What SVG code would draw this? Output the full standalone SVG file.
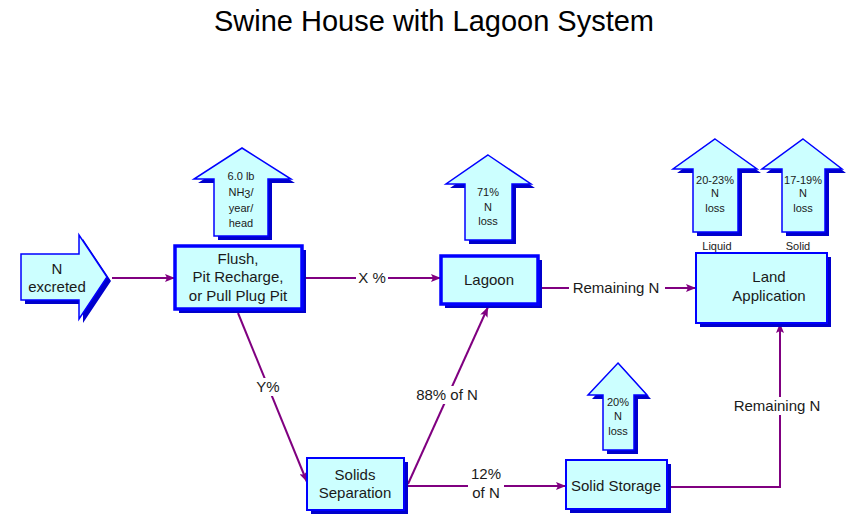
<svg xmlns="http://www.w3.org/2000/svg" width="853" height="514" viewBox="0 0 853 514">
<defs>
<style>
text{font-family:"Liberation Sans",Arial,sans-serif;fill:#1a1a1a;text-anchor:middle}
.t{font-size:29px;fill:#000}
.b{font-size:15px}
.s{font-size:11px}
.l{font-size:15px}
.sh{fill:#0000cc}
.box{fill:#ccffff;stroke:#0000ff;stroke-width:2}
.thick{stroke-width:3.5}
.ar{fill:#ccffff;stroke:#0000ff;stroke-width:1.5;stroke-linejoin:miter}
.c{fill:none;stroke:#800080;stroke-width:2}
.bg{fill:#fff}
</style>
<marker id="ah" viewBox="0 0 10 8" refX="10" refY="4" markerWidth="11" markerHeight="8" markerUnits="userSpaceOnUse" orient="auto">
<path d="M0,0 L10,4 L0,8 L2,4 Z" fill="#800080"/>
</marker>
</defs>
<rect width="853" height="514" fill="#fff"/>
<text class="t" x="434" y="31">Swine House with Lagoon System</text>

<g id="connectors">
<path class="c" d="M112,278 H175" marker-end="url(#ah)"/>
<path class="c" d="M302,278 H441" marker-end="url(#ah)"/>
<path class="c" d="M538,288 H696" marker-end="url(#ah)"/>
<path class="c" d="M238,313 L307,482" marker-end="url(#ah)"/>
<path class="c" d="M408,484 L488,307" marker-end="url(#ah)"/>
<path class="c" d="M404,486 H566" marker-end="url(#ah)"/>
<path class="c" d="M667,487 H780 V323" marker-end="url(#ah)"/>
<rect class="bg" x="356" y="269" width="32" height="18"/>
<text class="l" x="372" y="283">X %</text>
<rect class="bg" x="569" y="279" width="96" height="18"/>
<text class="l" x="616" y="293">Remaining N</text>
<rect class="bg" x="254" y="378" width="28" height="18"/>
<text class="l" x="268" y="392">Y%</text>
<rect class="bg" x="414" y="386" width="66" height="18"/>
<text class="l" x="447" y="400">88% of N</text>
<rect class="bg" x="468" y="465" width="36" height="37"/>
<text class="l" x="486" y="479">12%</text>
<text class="l" x="486" y="498">of N</text>
<rect class="bg" x="732" y="397" width="92" height="18"/>
<text class="l" x="777" y="411">Remaining N</text>
</g>

<g id="n-excreted">
<polygon class="sh" points="25,258 83,258 83,239 111,281 83,323 83,304 25,304"/>
<polygon class="ar" points="21,254 79,254 79,235 107,277 79,319 79,300 21,300"/>
<text class="b" x="57" y="274">N</text>
<text class="b" x="57" y="292">excreted</text>
</g>

<g id="flush">
<rect class="sh" x="179" y="250" width="127" height="63"/>
<rect class="box thick" x="175" y="246" width="127" height="63"/>
<text class="b" x="238" y="264">Flush,</text>
<text class="b" x="238" y="282">Pit Recharge,</text>
<text class="b" x="238" y="301">or Pull Plug Pit</text>
</g>

<g id="flush-loss">
<polygon class="sh" points="246,152 295,183 272,183 272,240 218,240 218,183 198,183"/>
<polygon class="ar" points="242,148 291,179 268,179 268,236 214,236 214,179 194,179"/>
<text class="s" x="241" y="180">6.0 lb</text>
<text class="s" x="241" y="196">NH<tspan dy="2">3</tspan><tspan dy="-2">/</tspan></text>
<text class="s" x="241" y="212">year/</text>
<text class="s" x="241" y="227">head</text>
</g>

<g id="lagoon">
<rect class="sh" x="445" y="260" width="97" height="48"/>
<rect class="box thick" x="441" y="256" width="97" height="48"/>
<text class="b" x="489" y="285">Lagoon</text>
</g>

<g id="lagoon-loss">
<polygon class="sh" points="492,159 535,188 516,188 516,244 469,244 469,188 450,188"/>
<polygon class="ar" points="488,155 531,184 512,184 512,240 465,240 465,184 446,184"/>
<text class="s" x="488" y="196">71%</text>
<text class="s" x="488" y="211">N</text>
<text class="s" x="488" y="225">loss</text>
</g>

<g id="land">
<rect class="sh" x="700" y="257" width="131" height="70"/>
<rect class="box" x="696" y="253" width="131" height="70"/>
<text class="b" x="769" y="282">Land</text>
<text class="b" x="769" y="301">Application</text>
</g>

<g id="liquid-loss">
<polygon class="sh" points="719,143 761,173 742,173 742,236 697,236 697,173 677,173"/>
<polygon class="ar" points="715,139 757,169 738,169 738,232 693,232 693,169 673,169"/>
<text class="s" x="715" y="184">20-23%</text>
<text class="s" x="715" y="197">N</text>
<text class="s" x="715" y="212">loss</text>
<text class="s" x="717" y="250">Liquid</text>
</g>

<g id="solid-loss">
<polygon class="sh" points="807,143 846,173 829,173 829,236 786,236 786,173 766,173"/>
<polygon class="ar" points="803,139 842,169 825,169 825,232 782,232 782,169 762,169"/>
<text class="s" x="803" y="184">17-19%</text>
<text class="s" x="803" y="197">N</text>
<text class="s" x="803" y="212">loss</text>
<text class="s" x="798" y="250">Solid</text>
</g>

<g id="solids-separation">
<rect class="sh" x="311" y="462" width="97" height="52"/>
<rect class="box" x="307" y="458" width="97" height="52"/>
<text class="b" x="355" y="480">Solids</text>
<text class="b" x="355" y="498">Separation</text>
</g>

<g id="solid-storage">
<rect class="sh" x="570" y="464" width="101" height="49"/>
<rect class="box" x="566" y="460" width="101" height="49"/>
<text class="b" x="616" y="491">Solid Storage</text>
</g>

<g id="storage-loss">
<polygon class="sh" points="622,367 651,399 638,399 638,454 607,454 607,399 592,399"/>
<polygon class="ar" points="618,363 647,395 634,395 634,450 603,450 603,395 588,395"/>
<text class="s" x="618" y="406">20%</text>
<text class="s" x="618" y="420">N</text>
<text class="s" x="618" y="435">loss</text>
</g>
</svg>
